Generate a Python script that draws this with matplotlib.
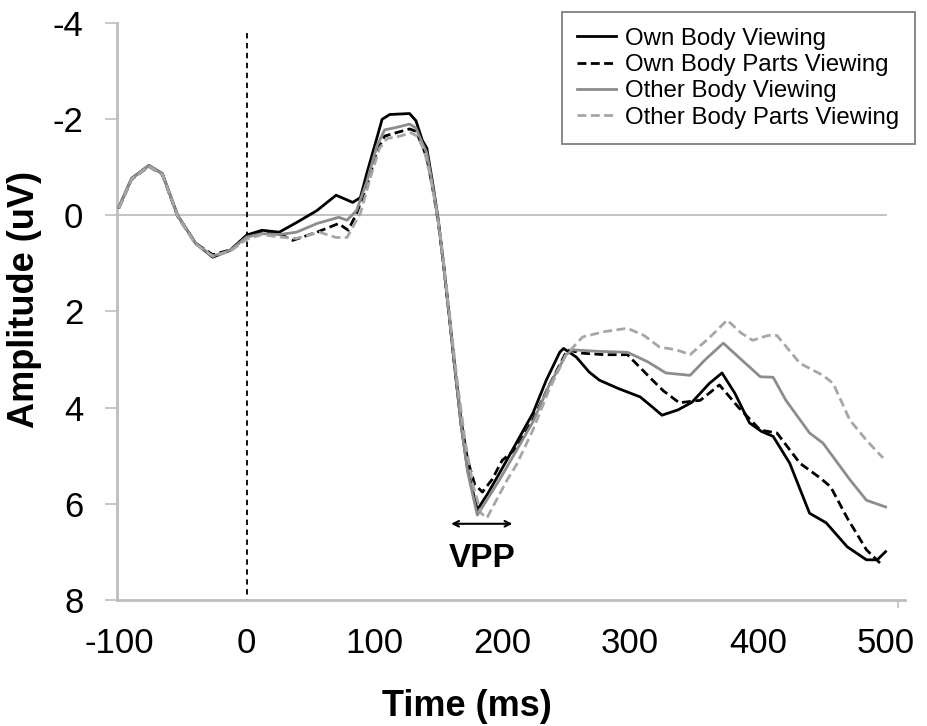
import matplotlib
matplotlib.use("Agg")
import matplotlib.pyplot as plt

plt.rcParams['font.family'] = ['Liberation Sans', 'DejaVu Sans']

# ERP waveforms (amplitude in uV, negative up)
t_own_body = [-100, -90, -76.5, -66, -54, -40, -26.5, -13, 0, 12, 25.5, 39, 55, 70, 83, 89, 94, 102, 106,
              112, 127.5, 132.5, 137.5, 141, 146, 150, 154, 159, 163, 168, 173, 180.5, 188.5, 198, 211,
              224, 234.5, 245, 248, 258, 268, 276, 290.5, 308, 318, 325, 337.5, 348.5, 362, 372, 382,
              393.5, 403, 412, 425, 440.5, 453.5, 470, 485, 493.5, 500]
own_body = [-0.17, -0.77, -1.04, -0.87, 0.0, 0.58, 0.87, 0.73, 0.41, 0.31, 0.35, 0.15, -0.1, -0.42,
            -0.27, -0.37, -0.87, -1.62, -2.0, -2.1, -2.12, -1.97, -1.56, -1.4, -0.6, 0.1, 1.0, 2.2, 3.2,
            4.4, 5.3, 6.13, 5.8, 5.36, 4.74, 4.12, 3.43, 2.85, 2.77, 2.95, 3.26, 3.43, 3.6, 3.78, 4.0,
            4.16, 4.05, 3.89, 3.5, 3.28, 3.7, 4.32, 4.5, 4.6, 5.16, 6.2, 6.4, 6.9, 7.17, 7.17, 7.0]

t_own_parts = [-100, -90, -76.5, -66, -54, -40, -26.5, -13, 0, 12, 25.5, 36, 55, 72, 79.5, 86, 94, 102,
               108, 117, 127.5, 132.5, 137.5, 141, 146, 150, 154, 159, 163, 168, 173, 178.5, 184.5, 192,
               200, 211, 224, 236.5, 251, 263, 280, 298, 315, 326, 338.5, 355, 370, 385, 402, 415, 433,
               449, 457, 470, 485, 498]
own_parts = [-0.15, -0.75, -1.02, -0.85, 0.02, 0.58, 0.82, 0.72, 0.45, 0.33, 0.38, 0.52, 0.35, 0.17,
             0.31, -0.04, -0.6, -1.35, -1.65, -1.72, -1.8, -1.75, -1.45, -1.2, -0.5, 0.15, 1.0, 2.2, 3.2,
             4.3, 5.1, 5.6, 5.76, 5.5, 5.1, 4.85, 4.25, 3.55, 2.8, 2.87, 2.9, 2.9, 3.36, 3.65, 3.9, 3.85,
             3.53, 4.0, 4.47, 4.53, 5.16, 5.47, 5.65, 6.3, 6.96, 7.3]

t_other_body = [-100, -90, -76.5, -66, -54, -40, -26.5, -13, 0, 12, 25.5, 39, 55, 72, 78.5, 86, 94, 102,
                108, 117, 127.5, 132.5, 137.5, 141, 146, 150, 154, 159, 163, 168, 173, 180.5, 188.5, 198,
                211, 224, 236.5, 250, 255, 275, 298, 314, 328, 347, 359, 373, 387, 402, 412, 422, 440.5,
                451, 472, 485, 500]
other_body = [-0.17, -0.77, -1.04, -0.87, 0.0, 0.58, 0.85, 0.73, 0.45, 0.38, 0.4, 0.35, 0.17, 0.04,
              0.1, -0.1, -0.7, -1.45, -1.78, -1.83, -1.9, -1.82, -1.5, -1.3, -0.55, 0.12, 1.0, 2.2, 3.2,
              4.4, 5.35, 6.24, 5.9, 5.5, 4.9, 4.3, 3.55, 2.9, 2.8, 2.83, 2.85, 3.05, 3.28, 3.33, 3.0,
              2.66, 3.0, 3.36, 3.37, 3.85, 4.53, 4.74, 5.5, 5.93, 6.07]

t_other_parts = [-100, -90, -76.5, -66, -54, -40, -26.5, -13, 0, 12, 25.5, 39, 57, 70, 78.5, 89, 97, 104,
                 110, 120, 128.5, 133.5, 139, 143, 148, 152, 156, 161, 166, 171, 177, 183.5, 188, 194,
                 204, 211, 224, 236.5, 250, 263, 280, 298, 311, 323, 336.5, 347, 362, 376, 387, 396, 408,
                 415, 433, 451, 459, 472, 485, 498]
other_parts = [-0.15, -0.75, -1.02, -0.85, 0.02, 0.6, 0.85, 0.75, 0.5, 0.4, 0.45, 0.48, 0.35, 0.46,
               0.46, -0.04, -0.8, -1.4, -1.6, -1.65, -1.72, -1.65, -1.35, -0.9, -0.2, 0.5, 1.4, 2.6, 3.7,
               4.7, 5.6, 6.2, 6.3, 6.0, 5.5, 5.2, 4.47, 3.64, 2.9, 2.53, 2.42, 2.35, 2.5, 2.74, 2.8, 2.9,
               2.55, 2.18, 2.45, 2.6, 2.5, 2.5, 3.08, 3.33, 3.5, 4.26, 4.68, 5.05]

labels = ["Own Body Viewing", "Own Body Parts Viewing", "Other Body Viewing", "Other Body Parts Viewing"]

x_ticks = [-100, 0, 100, 200, 300, 400, 500]
y_ticks = [-4, -2, 0, 2, 4, 6, 8]

axis_grey = "#bdbdbd"
dash = (3.2, 1.6)

fig = plt.figure(figsize=(9.27, 7.26), dpi=100)
ax = fig.add_axes([0.126, 0.174, 0.85, 0.794])

# zero line and stimulus onset
ax.plot([-100, 500], [0, 0], color=axis_grey, lw=1.3, zorder=1)
ax.plot([0, 0], [-3.8, 8], color="black", lw=1.3, linestyle=(0, (3, 2.5)), zorder=2)

# waveforms, later series drawn on top (as in the original)
l1, = ax.plot(t_own_body, own_body, color="black", lw=2.0, zorder=3)
l2, = ax.plot(t_own_parts, own_parts, color="black", lw=2.0, dashes=dash, zorder=4)
l3, = ax.plot(t_other_body, other_body, color="#8c8c8c", lw=2.0, zorder=5)
l4, = ax.plot(t_other_parts, other_parts, color="#a6a6a6", lw=2.0, dashes=dash, zorder=6)

# VPP window
ax.annotate("", xy=(160, 6.42), xytext=(208, 6.42),
            arrowprops=dict(arrowstyle="<->", color="black", lw=1.5, shrinkA=0, shrinkB=0))
ax.text(184, 7.15, "VPP", ha="center", va="center", fontsize=24, fontweight="bold")

ax.set_xlim(-101.6, 515)
ax.set_ylim(8, -4)
ax.set_xticks(x_ticks)
ax.set_xticklabels([str(v) for v in x_ticks])
ax.set_yticks(y_ticks)
ax.set_yticklabels([str(v) for v in y_ticks])
# tick marks on the x axis only every other label, like the original
ax.set_xticks([100, 300, 510], minor=True)
ax.tick_params(axis="x", which="major", length=0, labelsize=25, pad=20)
ax.tick_params(axis="x", which="minor", length=6, color=axis_grey, width=1.2)
ax.tick_params(axis="y", which="major", length=9, color=axis_grey, width=1.2, labelsize=25, pad=15)

for side in ["top", "right"]:
    ax.spines[side].set_visible(False)
for side in ["left", "bottom"]:
    ax.spines[side].set_color(axis_grey)
    ax.spines[side].set_linewidth(2.0)

ax.set_xlabel("Time (ms)", fontsize=26, fontweight="bold")
ax.set_ylabel("Amplitude (uV)", fontsize=26, fontweight="bold")
ax.xaxis.set_label_coords(0.444, -0.155)
ax.yaxis.set_label_coords(-0.095, 0.52)

leg = ax.legend([l1, l2, l3, l4], labels, loc="upper right",
                bbox_to_anchor=(915 / 927, 1 - 12 / 726), bbox_transform=fig.transFigure,
                borderaxespad=0, fontsize=17.3, labelspacing=0.18, handlelength=1.6,
                handletextpad=0.4, borderpad=0.65, fancybox=False, framealpha=1)
leg.get_frame().set_edgecolor("#7f7f7f")
leg.get_frame().set_linewidth(1.3)

fig.savefig("out.png", dpi=100)
